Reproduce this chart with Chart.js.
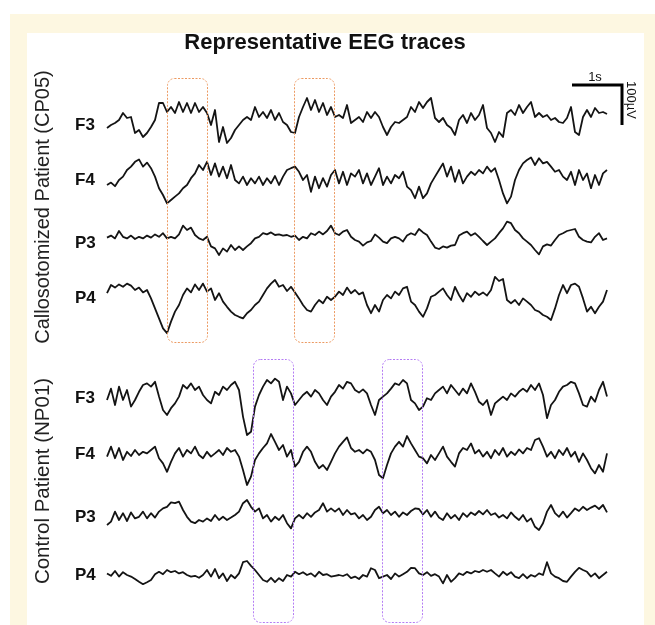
<!DOCTYPE html>
<html><head><meta charset="utf-8">
<script src="https://cdn.jsdelivr.net/npm/chart.js@4.4.1/dist/chart.umd.min.js"></script>
<style>
html,body{margin:0;padding:0;background:#fff;}
#page{position:relative;width:655px;height:625px;overflow:hidden;font-family:"Liberation Sans",Arial,sans-serif;}
#frame{position:absolute;left:10px;top:14px;width:645px;height:611px;background:#fdf7e1;}
#panel{position:absolute;left:27px;top:33px;width:617px;height:592px;background:#fff;}
#c{position:absolute;left:0;top:0;}
.t{position:absolute;white-space:nowrap;color:#111;transform:translate(-50%,-50%);}
.ch{position:absolute;left:75px;font-weight:bold;font-size:17px;color:#111;transform:translateY(-50%);}
</style></head>
<body><div id="page">
<div id="frame"></div><div id="panel"></div>
<canvas id="c" width="655" height="625"></canvas>
<div class="t" style="left:325px;top:42px;font-weight:bold;font-size:22px;">Representative EEG traces</div>
<div class="t" style="left:42px;top:207px;font-size:20px;color:#222;transform:translate(-50%,-50%) rotate(-90deg);">Callosotomized Patient (CP05)</div>
<div class="t" style="left:42px;top:481px;font-size:20.5px;color:#222;transform:translate(-50%,-50%) rotate(-90deg);">Control Patient (NP01)</div>
<div id="labels"></div>
<div class="t" style="left:595px;top:76px;font-size:13px;">1s</div>
<div class="t" style="left:631px;top:100px;font-size:13px;transform:translate(-50%,-50%) rotate(90deg);">100µV</div>
</div>
<script>
// ---- data (µV), sampled every 0.08 s over 10 s ----
const timeStepS = 0.08;
const channelNames = ['F3','F4','P3','P4','F3','F4','P3','P4'];
const groupNames = ['Callosotomized Patient (CP05)','Control Patient (NP01)'];
const scaleBarTimeS = 1;
const scaleBarAmpUV = 100;

const cp05F3 = [
-20,-12.5,-7.5,0,17.5,5,7.5,-32.5,-25,-42.5,
-32.5,-17.5,0,42.5,42.5,20,32.5,17.5,45,20,
42.5,17.5,42.5,20,32.5,17.5,-12.5,25,-55,-17.5,
-57.5,-45,-25,-12.5,0,7.5,0,32.5,7.5,20,
5,25,0,17.5,-5,-12.5,-30,-32.5,7.5,32.5,
55,25,50,20,42.5,12.5,32.5,7.5,12.5,5,
37.5,-7.5,0,7.5,-5,20,5,20,7.5,-17.5,
-37.5,-17.5,-5,-7.5,0,7.5,32.5,20,45,30,
45,55,5,-5,5,-12.5,-20,-37.5,0,12.5,
-7.5,17.5,0,12.5,37.5,-20,-32.5,-55,-30,-42.5,
17.5,25,12.5,37.5,17.5,32.5,45,7.5,17.5,7.5,
12.5,0,5,-5,-7.5,5,32.5,-30,-37.5,7.5,
25,7.5,30,17.5,20,15];
const cp05F4 = [
-20,-14,-23,-7.5,1,17.5,26,38,44,26,
36,22,1,-28,-45,-66,-57.5,-49,-41,-28,
-20,-3,9,30,17.5,38,5,34,1,26,
-3,30,-7.5,-16,1,-20,-3,-16,1,-20,
-3,-16,2.5,-20,1,17.5,22,26,13,-7.5,
5,-37,1,-28,-3,-24,5,17.5,-16,13,
-20,9,1,17.5,-16,9,-20,1,22,-20,
1,-16,5,-3,13,-24,-33,-53,-24,-53,
-41,-16,1,17.5,34,1,26,-12,17.5,-16,
1,13,5,17.5,9,26,13,22,-7.5,-41,
-66,-49,-7.5,17.5,34,42.5,49,30,47,34,
38,26,13,17.5,1,-7.5,13,-20,17.5,-7.5,
9,-28,5,-20,9,17.5];
const cp05P3 = [
1,6,-1,17.5,3,-1,6,-2.5,3,-1,
6,1,9,3,12,-1,3,-1,9,31,
20,26,7.5,-1,-5,3,-21,-26,-42.5,-26,
-34,-17.5,-30,-21,-30,-21,-13,-1,3,12,
9,14,7.5,9,6,7.5,3,6,-5,3,
-1,12,7.5,16,9,17.5,31,12,7.5,16,
20,3,-5,-9,-19,-11,-7.5,9,1,-9,
-13,-1,3,-1,-9,6,12,7.5,22.5,14,
7.5,-9,-24,-27.5,-21,-24,-19,-17.5,6,12,
16,6,12,3,-7.5,-17.5,-9,-1,12,24,
41,37,20,12,-1,-9,-17.5,-30,-41,-21,
-16,-19,-5,7.5,12,17.5,20,22.5,3,-5,
-9,-11,3,12,-5,-1];
const cp05P4 = [
-3,17.5,11,19,13,21,16,5,11,-1,
5,-16,-41,-66,-91,-103,-74,-49,-32.5,-7.5,
9,-1,19,5,21,1,9,-20,-3,-24,
-37,-49,-57.5,-62,-66,-53,-45,-32.5,-24,-7.5,
9,21,30,13,17.5,2.5,13,-1,-16,-32.5,
-45,-49,-32.5,-20,-28,-12,-20,-12,1,-7.5,
11,-3,5,-6,-1,-32.5,-53,-32.5,-49,-20,
-7.5,-16,1,-7.5,9,13,-24,-32.5,-49,-62,
-41,-12,-7.5,1,9,-7.5,-20,13,-7.5,-24,
-3,-12,1,-7.5,-1,-9,5,38,27.5,32.5,
-20,-28,-20,-32.5,-16,-24,-32.5,-45,-49,-57.5,
-62,-70,-41,-7.5,17.5,-3,17.5,21,13,-16,
-49,-37,-53,-37,-24,5];
const np01F3 = [
-12.5,16,-25,21,-12.5,12.5,-29,-12.5,8,25,
29,21,33,-4,-37.5,-50,-33,-21,-4,25,
16,29,12.5,21,0,-12.5,-21,8,0,21,
12.5,25,33,12.5,-54,-100,-92,-29,0,21,
37.5,29,41,33,-12.5,21,4,-25,-12.5,0,
8,-4,12.5,4,-12.5,-25,-4,8,25,16,
33,29,12.5,6,14,4,-25,-50,-12.5,-4,
4,16,29,25,37.5,29,-12.5,-21,-37.5,-29,
-8,-12.5,4,12.5,21,4,25,12.5,0,16,
4,29,8,-17,-25,-12.5,-50,-21,-12.5,-4,
-12.5,4,-4,8,16,8,25,12.5,29,0,
-58,-25,-12.5,8,21,25,33,29,4,-25,
-29,-4,-17,12.5,33,-4];
const np01F4 = [
-4,21,-8,17.5,-12.5,8,-2.5,12.5,0,8,
4,12.5,21,-8,-21,-42,-17,4,17.5,-4,
12.5,4,21,0,-8,8,-4,4,12.5,0,
17.5,8,12.5,-4,-37.5,-75,-54,-12.5,4,17.5,
29,52.5,33,12.5,25,-4,12.5,-29,-17,8,
21,8,-17,-33,-25,-37.5,-17,4,21,33,
44,17.5,8,12.5,4,14,8,-12.5,-50,-58,
-25,4,21,33,21,47.5,29,12.5,-4,-8,
-21,0,-12.5,4,21,-4,-17,-29,4,17.5,
12.5,29,4,12.5,-4,8,-8,12.5,0,17.5,
-4,8,0,14,4,17.5,12.5,37.5,42,21,
-4,8,-8,12.5,0,17.5,-4,8,-17,4,
-12.5,-33,-46,-25,-42,4];
const np01P3 = [
-17.5,-9,16,-5,12,-7.5,14,-1,3,16,
-1,12,1,16,24,28,39,37,41,20,
3,-9,-13,-5,-9,-1,-7.5,7.5,-5,3,
-5,1,7.5,16,37,45,28,16,24,-1,
7.5,-9,3,-5,7.5,-13,-26,-1,7.5,-1,
12,3,14,20,37,16,24,16,24,7.5,
20,9,12,-1,7.5,-5,3,20,28,12,
20,7.5,16,3,14,7.5,17.5,24,22.5,9,
20,3,16,1,-5,12,-1,7.5,-5,12,
3,14,7.5,17.5,9,20,7.5,12,1,7.5,
-1,14,3,-5,7.5,-9,-1,-22,-30,-13,
16,32.5,12,3,16,1,12,24,17.5,28,
20,26,31,22.5,32.5,14];
const np01P4 = [
9,3,15,1,12,5,1,-5,-12,-18,
-13,-7.5,7,13,7,17.5,12,15,9,12,
5,1,3,-2,5,17.5,1,20,-3,9,
-10,5,-3,9,37,40,28,17.5,5,-7.5,
-12,-2,-13,-3,-10,5,1,13,7,12,
5,9,1,13,5,7,1,3,5,2.5,
7,-3,1,-5,5,1,22,17.5,-3,1,
5,-5,9,1,7,13,23,22,9,5,
12,3,7,1,-16,5,-12,-3,9,5,
13,9,15,12,17.5,13,17.5,9,1,13,
5,12,1,-3,7,-3,5,1,9,5,
37,9,1,-3,-10,-12,1,13,23,17.5,
13,1,9,-3,5,13];

const traces = [cp05F3, cp05F4, cp05P3, cp05P4, np01F3, np01F4, np01P3, np01P4];

// ---- layout (pixels / styling) ----
const plotTopPx = 60, plotBottomPx = 620, uvPerPx = 2.5;
const rowBaselinePx = [120, 177, 238, 292, 395, 455, 518, 577];
const labelCenterPx = [125, 180, 243, 298, 398, 454, 517, 575];
const yMaxUV = 0, yMinUV = -(plotBottomPx - plotTopPx) * uvPerPx;
const pxToUV = p => -(p - plotTopPx) * uvPerPx;

const boxes = [
  {t0: 1.2, t1: 2.0, top: 78, bottom: 342, color: '#ec9a62'},
  {t0: 3.74, t1: 4.54, top: 78, bottom: 342, color: '#ec9a62'},
  {t0: 2.92, t1: 3.72, top: 359, bottom: 622, color: '#b47cf4'},
  {t0: 5.5, t1: 6.3, top: 359, bottom: 622, color: '#b47cf4'}
];

const lab = document.getElementById('labels');
channelNames.forEach((n, k) => {
  const d = document.createElement('div');
  d.className = 'ch'; d.textContent = n; d.style.top = labelCenterPx[k] + 'px';
  lab.appendChild(d);
});

const datasets = traces.map((vals, k) => ({
  label: channelNames[k],
  data: vals.map((v, i) => ({x: i * timeStepS, y: v + pxToUV(rowBaselinePx[k])})),
  borderColor: '#141414', borderWidth: 1.8, pointRadius: 0, tension: 0, fill: false, clip: false,
  borderJoinStyle: 'round'
}));

const overlay = {
  id: 'overlay',
  afterDatasetsDraw(chart) {
    const {ctx, scales: {x, y}} = chart;
    ctx.save();
    boxes.forEach(b => {
      const x0 = x.getPixelForValue(b.t0), x1 = x.getPixelForValue(b.t1);
      const y0 = y.getPixelForValue(pxToUV(b.top)), y1 = y.getPixelForValue(pxToUV(b.bottom));
      ctx.beginPath();
      ctx.setLineDash([2, 1.5]);
      ctx.lineWidth = 1;
      ctx.strokeStyle = b.color;
      ctx.roundRect(x0 + 0.5, y0 + 0.5, x1 - x0, y1 - y0, 7);
      ctx.stroke();
    });
    // scale bar
    ctx.setLineDash([]);
    ctx.lineWidth = 3;
    ctx.strokeStyle = '#000';
    const tEnd = 10.3, yTop = pxToUV(85);
    const bx0 = x.getPixelForValue(tEnd - scaleBarTimeS), bx1 = x.getPixelForValue(tEnd);
    const by0 = y.getPixelForValue(yTop), by1 = y.getPixelForValue(yTop - scaleBarAmpUV);
    ctx.beginPath();
    ctx.moveTo(bx0, by0); ctx.lineTo(bx1, by0); ctx.lineTo(bx1, by1);
    ctx.stroke();
    ctx.restore();
  }
};

new Chart(document.getElementById('c'), {
  type: 'line',
  data: {datasets},
  options: {
    responsive: false, animation: false, devicePixelRatio: 1,
    layout: {padding: {left: 107, right: 48, top: plotTopPx, bottom: 625 - plotBottomPx}},
    scales: {
      x: {type: 'linear', min: 0, max: 10, display: false},
      y: {type: 'linear', min: yMinUV, max: yMaxUV, display: false}
    },
    plugins: {legend: {display: false}, tooltip: {enabled: false}, title: {display: false}}
  },
  plugins: [overlay]
});
</script>
</body></html>
